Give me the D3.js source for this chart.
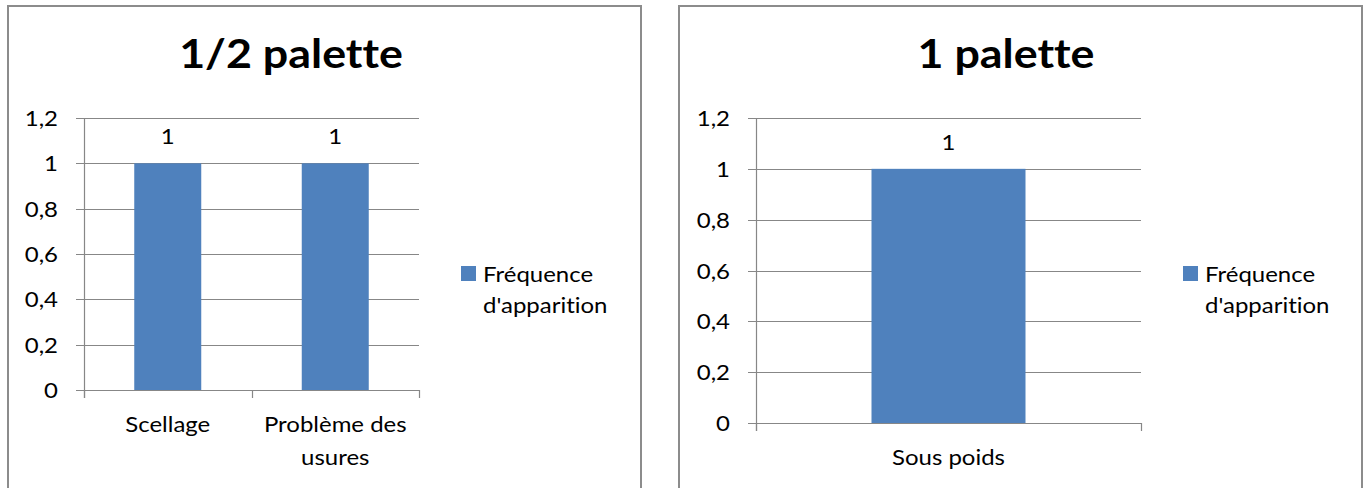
<!DOCTYPE html>
<html>
<head>
<meta charset="utf-8">
<script src="https://cdn.jsdelivr.net/npm/d3@7"></script>
<style>
  html, body { margin: 0; padding: 0; background: #fff; }
  svg { display: block; }
  text { font-family: Lato, "Open Sans", sans-serif; fill: #000;
         font-variant-ligatures: none; font-feature-settings: "liga" 0, "clig" 0; }
</style>
</head>
<body>
<svg id="chart" width="1365" height="488"></svg>
<script>
// Half-pallet defects
const halfCategories = ["Scellage", "Problème des usures"];
const halfValues = [1, 1];
// Full-pallet defects
const fullCategories = ["Sous poids"];
const fullValues = [1];

const yTicks = [0, 0.2, 0.4, 0.6, 0.8, 1, 1.2];
const seriesName = "Fréquence d'apparition";
const titles = ["1/2 palette", "1 palette"];

const BAR = "#4f81bd";
const GRID = "#878787";
const FRAME = "#8c8c8c";
const SX = 1.09; // horizontal text stretch
const FS = 22;   // body text size

const svg = d3.select("#chart");
const fmt = v => String(v).replace(".", ",");

// text helper: x,y anchor with horizontal stretch
function stretchedText(g, x, y, str, opts) {
  return g.append("text")
    .attr("transform", `translate(${x},${y}) scale(${opts.sx || SX},1)`)
    .attr("text-anchor", opts.anchor || "start")
    .style("font-size", opts.size + "px")
    .style("font-weight", opts.weight || "normal")
    .text(str);
}

function drawChart(cfg) {
  const g = svg.append("g");
  // outer frame
  g.append("rect")
    .attr("x", cfg.frame[0]).attr("y", cfg.frame[1])
    .attr("width", cfg.frame[2] - cfg.frame[0]).attr("height", 600)
    .attr("fill", "#fff").attr("stroke", FRAME).attr("stroke-width", 2);

  const y = d3.scaleLinear().domain([0, 1.2]).range([cfg.plot.bottom, cfg.plot.top]);
  const x = d3.scaleBand().domain(cfg.categories)
    .range([cfg.plot.left, cfg.plot.right])
    .paddingInner(0.6).paddingOuter(0.3);

  // gridlines + y ticks
  g.append("g").selectAll("line").data(yTicks).join("line")
    .attr("x1", cfg.plot.left - 8).attr("x2", cfg.plot.right)
    .attr("y1", d => Math.round(y(d)) + 0.5).attr("y2", d => Math.round(y(d)) + 0.5)
    .attr("stroke", GRID).attr("stroke-width", 1.2);

  // bars
  g.append("g").selectAll("rect").data(cfg.values).join("rect")
    .attr("x", (d, i) => x(cfg.categories[i]))
    .attr("width", x.bandwidth())
    .attr("y", d => y(d))
    .attr("height", d => y(0) - y(d))
    .attr("fill", BAR);

  // y axis line
  g.append("line")
    .attr("x1", cfg.plot.left + 0.5).attr("x2", cfg.plot.left + 0.5)
    .attr("y1", cfg.plot.top).attr("y2", cfg.plot.bottom + 8)
    .attr("stroke", GRID).attr("stroke-width", 1.2);

  // x axis category boundary ticks
  const step = x.step();
  const bounds = d3.range(cfg.categories.length + 1).map(i => cfg.plot.left + i * step);
  g.append("g").selectAll("line").data(bounds).join("line")
    .attr("x1", d => Math.round(d) + 0.5).attr("x2", d => Math.round(d) + 0.5)
    .attr("y1", cfg.plot.bottom).attr("y2", cfg.plot.bottom + 8)
    .attr("stroke", GRID).attr("stroke-width", 1.2);

  // y tick labels
  yTicks.forEach(v => {
    stretchedText(g, cfg.plot.left - 26, y(v) + 8, fmt(v), { size: FS, anchor: "end" });
  });

  // data labels
  cfg.values.forEach((v, i) => {
    stretchedText(g, x(cfg.categories[i]) + x.bandwidth() / 2, y(v) - 19, fmt(v), { size: FS, anchor: "middle" });
  });

  // category labels, wrapped within category width
  cfg.categories.forEach(c => {
    const cx = x(c) + x.bandwidth() / 2;
    const words = c.split(" ");
    const lines = [];
    let cur = "";
    const probe = g.append("text").style("font-size", FS + "px");
    words.forEach(w => {
      const test = cur ? cur + " " + w : w;
      probe.text(test);
      if (cur && probe.node().getComputedTextLength() * SX > step - 10) {
        lines.push(cur); cur = w;
      } else cur = test;
    });
    lines.push(cur);
    probe.remove();
    lines.forEach((ln, k) => {
      stretchedText(g, cx, cfg.plot.bottom + 42 + k * 33, ln, { size: FS, anchor: "middle" });
    });
  });

  // title
  stretchedText(g, cfg.titleX, 68, cfg.title, { size: 40, weight: "bold", anchor: "middle", sx: 1.12 });

  // legend
  g.append("rect")
    .attr("x", cfg.legendX).attr("y", 266).attr("width", 15).attr("height", 15)
    .attr("fill", BAR);
  seriesName.split(" ").forEach((p, k) => {
    stretchedText(g, cfg.legendX + 22, 282 + k * 31, p, { size: FS });
  });
}

drawChart({
  frame: [8, 6, 641],
  plot: { left: 84, right: 419, top: 118, bottom: 390 },
  categories: halfCategories, values: halfValues,
  title: titles[0], titleX: 291, legendX: 461
});

drawChart({
  frame: [679, 6, 1362],
  plot: { left: 756, right: 1141, top: 118, bottom: 423 },
  categories: fullCategories, values: fullValues,
  title: titles[1], titleX: 1006, legendX: 1183
});
</script>
</body>
</html>
